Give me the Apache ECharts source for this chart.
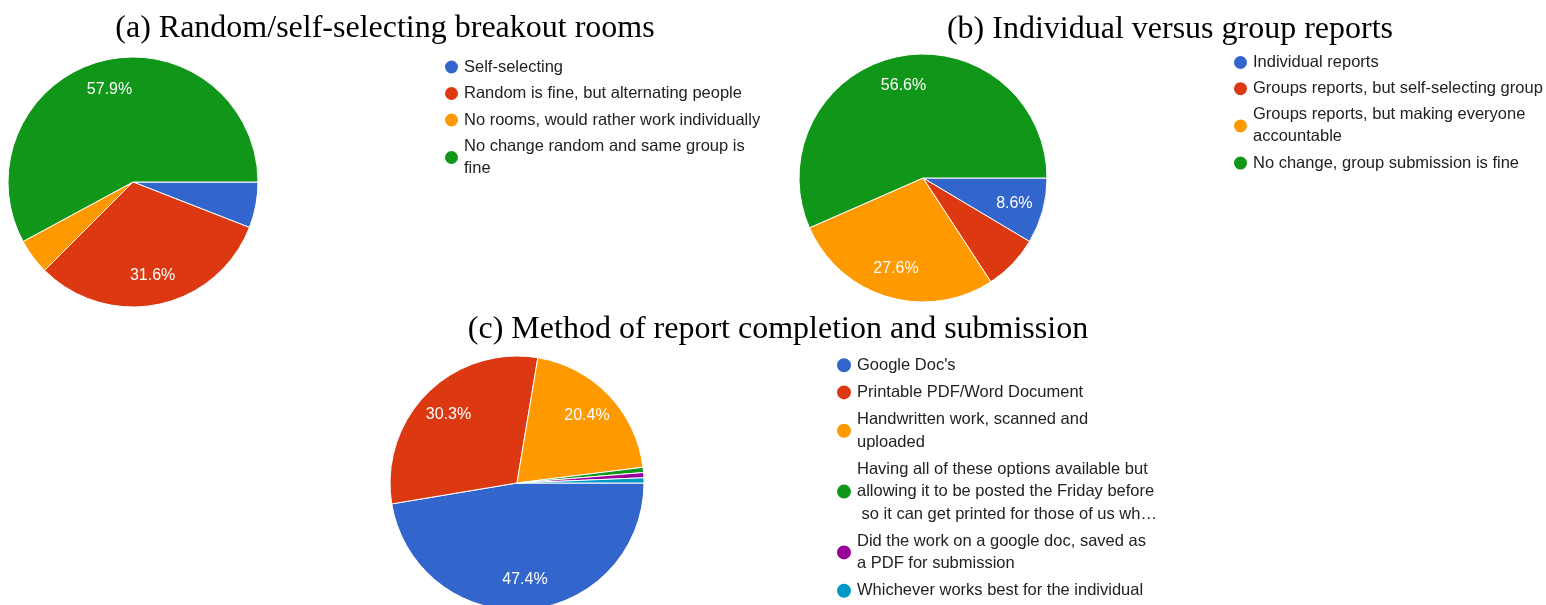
<!DOCTYPE html>
<html>
<head>
<meta charset="utf-8">
<script src="https://cdn.jsdelivr.net/npm/echarts@6/dist/echarts.min.js"></script>
<style>
html,body{margin:0;padding:0;background:#fff;}
#chart{width:1546px;height:605px;}
</style>
</head>
<body>
<div id="chart"></div>
<script>
// ---- data ----
const titles = [
  '(a) Random/self-selecting breakout rooms',
  '(b) Individual versus group reports',
  '(c) Method of report completion and submission'
];
const catsA = [
  'Self-selecting',
  'Random is fine, but alternating people',
  'No rooms, would rather work individually',
  'No change random and same group is fine'
];
const valsA = [9, 48, 7, 88];
const catsB = [
  'Individual reports',
  'Groups reports, but self-selecting group',
  'Groups reports, but making everyone accountable',
  'No change, group submission is fine'
];
const valsB = [13, 11, 42, 86];
const catsC = [
  "Google Doc's",
  'Printable PDF/Word Document',
  'Handwritten work, scanned and uploaded',
  'Having all of these options available but allowing it to be posted the Friday before so it can get printed for those of us wh\u2026',
  'Did the work on a google doc, saved as a PDF for submission',
  'Whichever works best for the individual'
];
const valsC = [72, 46, 31, 1, 1, 1];
const palette = ['#3366cc', '#dc3912', '#ff9900', '#109618', '#990099', '#0099c6'];

// ---- layout ----
const SANS = "'Liberation Sans', Arial, sans-serif";
const SERIF = "'Liberation Serif', 'Times New Roman', serif";
const pies = [
  {cats: catsA, vals: valsA, center: [133, 182], r: 125},
  {cats: catsB, vals: valsB, center: [923, 178], r: 124},
  {cats: catsC, vals: valsC, center: [517, 483], r: 127}
];
const legendPos = [
  {left: 443, top: 56, icon: 15, lh: 22, gap: 4.5, width: 304},
  {left: 1232, top: 51.5, icon: 15, lh: 22, gap: 4.2, width: 304},
  {left: 835, top: 354, icon: 16, lh: 22.4, gap: 4.8, width: 301.3}
];
const titlePos = [
  {x: 385, y: 12},
  {x: 1170, y: 13},
  {x: 778, y: 313}
];

const series = [];
pies.forEach((p, i) => {
  const data = p.cats.map((c, k) => ({name: c, value: p.vals[k], itemStyle: {color: palette[k]}}));
  series.push({
    type: 'pie',
    center: p.center,
    radius: [0, p.r],
    startAngle: 0,
    clockwise: true,
    percentPrecision: 1,
    avoidLabelOverlap: false,
    silent: true,
    animation: false,
    itemStyle: {borderColor: '#ffffff', borderWidth: 1},
    label: {show: false},
    labelLine: {show: false},
    emphasis: {disabled: true},
    data: data
  });
  // label carrier: same angles, labels at ~0.74 r like the reference
  series.push({
    type: 'pie',
    center: p.center,
    radius: [p.r * 0.48, p.r],
    startAngle: 0,
    clockwise: true,
    percentPrecision: 1,
    avoidLabelOverlap: false,
    silent: true,
    animation: false,
    itemStyle: {color: 'rgba(0,0,0,0)', borderWidth: 0},
    label: {
      show: true,
      position: 'inside',
      color: '#ffffff',
      fontFamily: SANS,
      fontSize: 16,
      formatter: (prm) => prm.percent >= 8 ? prm.percent.toFixed(1) + '%' : ''
    },
    labelLine: {show: false},
    emphasis: {disabled: true},
    data: p.cats.map((c, k) => ({name: c, value: p.vals[k]}))
  });
});

const option = {
  backgroundColor: '#ffffff',
  animation: false,
  title: titles.map((t, i) => ({
    text: t,
    left: titlePos[i].x,
    top: titlePos[i].y,
    textAlign: 'center',
    padding: 0,
    textStyle: {fontFamily: SERIF, fontSize: 32, fontWeight: 'normal', color: '#000000', lineHeight: 34}
  })),
  legend: pies.map((p, i) => ({
    orient: 'vertical',
    left: legendPos[i].left,
    top: legendPos[i].top,
    width: 400,
    height: 400,
    padding: 0,
    itemGap: legendPos[i].gap,
    itemWidth: legendPos[i].icon,
    itemHeight: legendPos[i].icon,
    icon: 'circle',
    selectedMode: false,
    data: p.cats,
    textStyle: {
      fontFamily: SANS,
      fontSize: 16.5,
      lineHeight: legendPos[i].lh,
      color: '#222222',
      width: legendPos[i].width,
      overflow: 'break'
    }
  })),
  series: series
};

const chart = echarts.init(document.getElementById('chart'), null, {renderer: 'canvas'});
chart.setOption(option);
</script>
</body>
</html>
